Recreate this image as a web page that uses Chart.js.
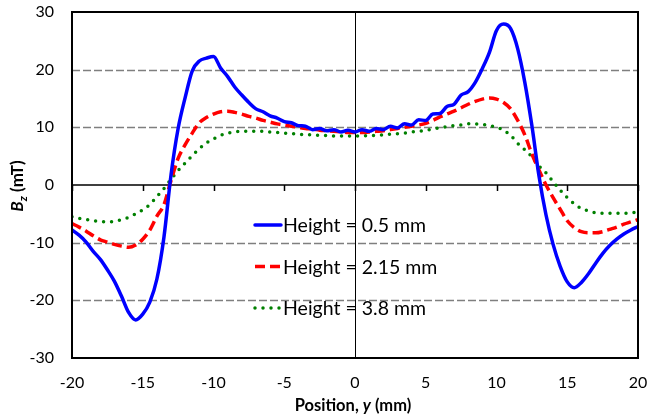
<!DOCTYPE html>
<html>
<head>
<meta charset="utf-8">
<script src="https://cdn.jsdelivr.net/npm/chart.js@4.4.1/dist/chart.umd.min.js"></script>
<style>
  html, body { margin: 0; padding: 0; background: #fff; }
  #wrap { width: 647px; height: 419px; position: relative; }
</style>
</head>
<body>
<div id="wrap"><canvas id="bzChart"></canvas></div>
<script>
// ---- Data ----
const positions = [];
for (let i = -40; i <= 40; i++) positions.push(i / 2); // -20 .. 20 mm, step 0.5

const bzHeight05 = [
  -7.8, -8.7, -9.9, -11.5, -12.9, -14.7, -16.7, -19.3, -22.1, -23.4,
  -22.4, -20.3, -16.3, -9.0, 1.8, 9.8, 15.2, 19.8, 21.5, 22.0,
  22.3, 20.3, 18.8, 17.0, 15.6, 14.3, 13.2, 12.7, 12.0, 11.6,
  11.0, 10.8, 10.3, 10.2, 9.6, 9.8, 9.4, 9.6, 9.2, 9.5,
  9.2, 9.6, 9.3, 9.8, 9.6, 10.2, 9.9, 10.6, 10.4, 11.3,
  11.2, 12.3, 12.4, 13.6, 14.0, 15.6, 16.2, 17.8, 20.2, 23.0,
  26.8, 27.9, 27.1, 23.6, 17.8, 10.3, 1.6, -5.2, -10.3, -14.1,
  -16.8, -17.8, -16.9, -15.4, -13.6, -11.9, -10.5, -9.4, -8.5, -7.8,
  -7.2
];
const bzHeight215 = [
  -6.7, -7.3, -8.0, -8.8, -9.5, -9.9, -10.3, -10.6, -10.8, -10.4,
  -9.4, -7.8, -5.4, -3.4, 0.8, 4.6, 7.0, 9.0, 10.8, 11.7,
  12.3, 12.7, 12.8, 12.6, 12.3, 11.9, 11.6, 11.2, 10.9, 10.6,
  10.4, 10.2, 10.0, 9.8, 9.7, 9.5, 9.4, 9.3, 9.2, 9.1,
  9.1, 9.1, 9.2, 9.3, 9.4, 9.6, 9.8, 10.0, 10.2, 10.4,
  10.7, 11.2, 11.8, 12.3, 12.8, 13.4, 14.0, 14.5, 14.9, 15.1,
  14.9, 14.3, 13.2, 11.2, 8.7, 5.4, 2.6, 0.0, -2.2, -4.2,
  -6.2, -7.4, -8.1, -8.3, -8.3, -8.1, -7.7, -7.3, -6.8, -6.4,
  -6.0
];
const bzHeight38 = [
  -5.5, -5.8, -6.0, -6.2, -6.3, -6.4, -6.3, -6.0, -5.6, -5.0,
  -4.3, -3.4, -2.0, -0.6, 1.0, 2.5, 3.8, 5.1, 6.3, 7.3,
  8.0, 8.6, 9.0, 9.2, 9.3, 9.3, 9.3, 9.3, 9.2, 9.1,
  9.0, 8.9, 8.8, 8.7, 8.7, 8.6, 8.6, 8.5, 8.5, 8.5,
  8.5, 8.5, 8.6, 8.6, 8.7, 8.8, 8.9, 9.0, 9.2, 9.3,
  9.5, 9.7, 9.9, 10.1, 10.3, 10.4, 10.6, 10.6, 10.5, 10.3,
  10.0, 9.5, 8.6, 7.2, 6.1, 4.9, 3.3, 2.1, 0.6, -0.9,
  -2.2, -3.3, -4.1, -4.5, -4.8, -4.9, -4.9, -4.9, -4.9, -4.8,
  -4.7
];

const seriesLabels = ["Height = 0.5 mm", "Height = 2.15 mm", "Height = 3.8 mm"];
const xTicks = [-20, -15, -10, -5, 0, 5, 10, 15, 20];
const yTicks = [-30, -20, -10, 0, 10, 20, 30];

// ---- Styles ----
const FONT = "Lato, 'Open Sans', sans-serif";
const styles = [
  { color: "#0000ff", dash: [], cap: "round" },
  { color: "#ff0000", dash: [10, 5], cap: "butt" },
  { color: "#008000", dash: [0, 8], cap: "round" }
];

function toPoints(ys) {
  return positions.map((x, i) => ({ x: x, y: ys[i] }));
}

// grid, zero axes, ticks on the y=0 line, frame
const framePlugin = {
  id: "frame",
  beforeDatasetsDraw(chart) {
    const { ctx, chartArea: a, scales: { x, y } } = chart;
    ctx.save();
    ctx.lineWidth = 1.3;
    ctx.strokeStyle = "#7f7f7f";
    ctx.setLineDash([8, 3]);
    yTicks.forEach(v => {
      if (v === 0 || v === -30 || v === 30) return;
      const py = Math.round(y.getPixelForValue(v)) + 0.5;
      ctx.beginPath();
      ctx.moveTo(a.left, py);
      ctx.lineTo(a.right, py);
      ctx.stroke();
    });
    ctx.setLineDash([]);
    ctx.strokeStyle = "#000";
    // vertical line at x = 0
    ctx.lineWidth = 1;
    const px0 = Math.round(x.getPixelForValue(0)) + 0.5;
    ctx.beginPath();
    ctx.moveTo(px0, a.top);
    ctx.lineTo(px0, a.bottom);
    ctx.stroke();
    // horizontal axis at y = 0 with tick marks
    ctx.lineWidth = 1.5;
    const py0 = Math.round(y.getPixelForValue(0));
    ctx.beginPath();
    ctx.moveTo(a.left, py0);
    ctx.lineTo(a.right, py0);
    xTicks.forEach(v => {
      const px = Math.round(x.getPixelForValue(v)) + 0.5;
      ctx.moveTo(px, py0);
      ctx.lineTo(px, py0 + 6);
    });
    ctx.stroke();
    ctx.restore();
  },
  afterDatasetsDraw(chart) {
    const { ctx, chartArea: a } = chart;
    ctx.save();
    ctx.strokeStyle = "#000";
    ctx.lineWidth = 2;
    ctx.strokeRect(a.left, a.top, a.right - a.left, a.bottom - a.top);
    ctx.restore();
  }
};

// legend inside the plot + axis titles with italic parts
const labelsPlugin = {
  id: "labels",
  afterDraw(chart) {
    const { ctx } = chart;
    ctx.save();
    // legend
    const lx = 255, ly = 225, gap = 41.5;
    seriesLabels.forEach((txt, i) => {
      const s = styles[i];
      const cy = ly + i * gap;
      ctx.strokeStyle = s.color;
      ctx.lineWidth = 3.5;
      ctx.lineCap = s.cap;
      ctx.setLineDash(s.dash);
      ctx.beginPath();
      ctx.moveTo(lx, cy);
      ctx.lineTo(lx + 26, cy);
      ctx.stroke();
      ctx.setLineDash([]);
      ctx.fillStyle = "#000";
      ctx.font = "19.5px " + FONT;
      ctx.textBaseline = "middle";
      ctx.textAlign = "left";
      ctx.fillText(txt, lx + 28, cy + 1);
    });

    // x title: Position, y (mm)
    ctx.fillStyle = "#000";
    ctx.textBaseline = "middle";
    ctx.textAlign = "left";
    const parts = [
      { t: "Position, ", f: "bold 16.5px " + FONT },
      { t: "y", f: "bold italic 16.5px " + FONT },
      { t: " (mm)", f: "bold 16.5px " + FONT }
    ];
    let w = 0;
    parts.forEach(p => { ctx.font = p.f; w += ctx.measureText(p.t).width; });
    let tx = 353 - w / 2;
    parts.forEach(p => { ctx.font = p.f; ctx.fillText(p.t, tx, 406); tx += ctx.measureText(p.t).width; });

    // y title: B_z (mT), rotated
    ctx.translate(18, 186);
    ctx.rotate(-Math.PI / 2);
    const yparts = [
      { t: "B", f: "bold italic 17px " + FONT, dy: 0 },
      { t: "z", f: "bold italic 12px " + FONT, dy: 5 },
      { t: " (mT)", f: "bold 17px " + FONT, dy: 0 }
    ];
    w = 0;
    yparts.forEach(p => { ctx.font = p.f; w += ctx.measureText(p.t).width; });
    tx = -w / 2;
    yparts.forEach(p => { ctx.font = p.f; ctx.fillText(p.t, tx, p.dy); tx += ctx.measureText(p.t).width; });
    ctx.restore();
  }
};

const ctx = document.getElementById("bzChart").getContext("2d");
new Chart(ctx, {
  type: "scatter",
  data: {
    datasets: [bzHeight05, bzHeight215, bzHeight38].map((ys, i) => ({
      label: seriesLabels[i],
      data: toPoints(ys),
      showLine: true,
      borderColor: styles[i].color,
      borderWidth: 3.5,
      borderDash: styles[i].dash,
      borderCapStyle: styles[i].cap,
      borderJoinStyle: "round",
      pointRadius: 0,
      tension: 0.4,
      cubicInterpolationMode: "monotone",
      fill: false
    }))
  },
  options: {
    responsive: true,
    maintainAspectRatio: false,
    animation: false,
    layout: { padding: { top: 12, right: 9, left: 0, bottom: 0 } },
    plugins: {
      legend: { display: false },
      tooltip: { enabled: false }
    },
    scales: {
      x: {
        type: "linear",
        min: -20,
        max: 20,
        afterBuildTicks: s => { s.ticks = xTicks.map(v => ({ value: v })); },
        afterFit: s => { s.height = 61; s.paddingLeft = 0; s.paddingRight = 0; },
        grid: { display: false, drawTicks: false },
        border: { display: false },
        ticks: { color: "#000", font: { family: FONT, size: 16 }, padding: 15, maxRotation: 0 }
      },
      y: {
        min: -30,
        max: 30,
        afterBuildTicks: s => { s.ticks = yTicks.map(v => ({ value: v })); },
        afterFit: s => { s.width = 72; s.paddingTop = 0; s.paddingBottom = 0; },
        grid: { display: false, drawTicks: false },
        border: { display: false },
        ticks: { color: "#000", font: { family: FONT, size: 16 }, padding: 18 }
      }
    }
  },
  plugins: [framePlugin, labelsPlugin]
});
</script>
</body>
</html>
